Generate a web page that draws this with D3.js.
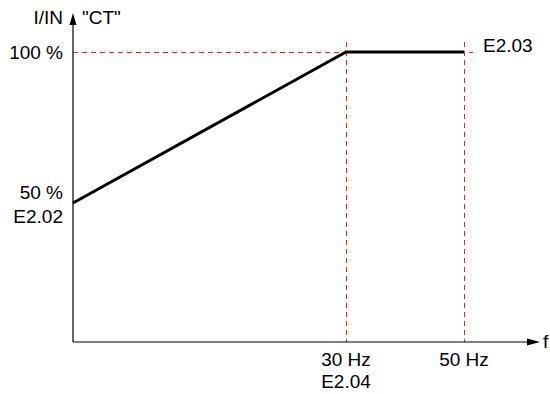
<!DOCTYPE html>
<html>
<head>
<meta charset="utf-8">
<script src="https://cdn.jsdelivr.net/npm/d3@7"></script>
<style>
  html, body { margin: 0; padding: 0; background: #fff; }
  svg text { font-family: "Liberation Sans", Arial, sans-serif; font-size: 19px; fill: #000; }
</style>
</head>
<body>
<svg id="chart" width="550" height="394"></svg>
<script>
// Current limit characteristic (constant torque): I/IN versus frequency
const freqs = [0, 30, 50];            // Hz
const currentPct = [50, 100, 100];    // % of IN
const xTickValues = [30, 50];
const xTickLabels = ["30 Hz", "50 Hz"];
const xTickParams = ["E2.04", ""];
const yTickValues = [100, 50];
const yTickLabels = ["100 %", "50 %"];
const yTickParams = ["", "E2.02"];
const endParam = "E2.03";
const yAxisTitle = "I/IN";
const curveTitle = "\"CT\"";
const xAxisTitle = "f";

const svg = d3.select("#chart");
const x0 = 73, y0 = 342;

// Schematic (piecewise) frequency scale and percentage scale
const x = d3.scaleLinear().domain([0, 30, 50]).range([x0, 346, 464]);
const y = d3.scaleLinear().domain([4, 100]).range([y0, 52]);

const red = "#ff1a1a";

// Red dashed guide lines
const gDash = svg.append("g")
  .attr("stroke", red).attr("stroke-width", 1).attr("stroke-dasharray", "5,4")
  .attr("fill", "none").attr("shape-rendering", "crispEdges");
gDash.append("line")
  .attr("x1", x0).attr("x2", x(50) + 9)
  .attr("y1", y(100) + 0.5).attr("y2", y(100) + 0.5);
xTickValues.forEach(v => {
  gDash.append("line")
    .attr("x1", x(v) + 0.5).attr("x2", x(v) + 0.5)
    .attr("y1", y(100) - 10).attr("y2", y0);
});

// Axes with arrowheads
const axes = svg.append("g").attr("stroke", "#000").attr("stroke-width", 1.2);
axes.append("line").attr("x1", x0).attr("x2", x0).attr("y1", y0).attr("y2", 22);
axes.append("line").attr("x1", x0).attr("x2", 530).attr("y1", y0).attr("y2", y0);
svg.append("path").attr("d", `M${x0},13 L${x0 - 3.5},25 L${x0 + 3.5},25 Z`).attr("fill", "#000");
svg.append("path").attr("d", `M540,${y0} L527,${y0 - 3.5} L527,${y0 + 3.5} Z`).attr("fill", "#000");

// Characteristic curve
const line = d3.line().x((d, i) => x(freqs[i])).y(d => y(d));
svg.append("path")
  .datum(currentPct)
  .attr("d", line)
  .attr("fill", "none")
  .attr("stroke", "#000")
  .attr("stroke-width", 3)
  .attr("stroke-linejoin", "miter");

// Titles
svg.append("text").attr("x", 63).attr("y", 24).attr("text-anchor", "end").text(yAxisTitle);
svg.append("text").attr("x", 82).attr("y", 24).text(curveTitle);
svg.append("text").attr("x", 543).attr("y", 348).text(xAxisTitle);

// Y tick labels
yTickValues.forEach((v, i) => {
  svg.append("text").attr("x", 63).attr("y", y(v) + 7 - (yTickParams[i] ? 11 : 0))
    .attr("text-anchor", "end").text(yTickLabels[i]);
  if (yTickParams[i]) {
    svg.append("text").attr("x", 63).attr("y", y(v) + 20)
      .attr("text-anchor", "end").text(yTickParams[i]);
  }
});

// X tick labels
xTickValues.forEach((v, i) => {
  svg.append("text").attr("x", x(v)).attr("y", 366).attr("text-anchor", "middle").text(xTickLabels[i]);
  if (xTickParams[i]) {
    svg.append("text").attr("x", x(v)).attr("y", 388).attr("text-anchor", "middle").text(xTickParams[i]);
  }
});

// Parameter for the upper limit
svg.append("text").attr("x", 483).attr("y", y(100)).text(endParam);
</script>
</body>
</html>
